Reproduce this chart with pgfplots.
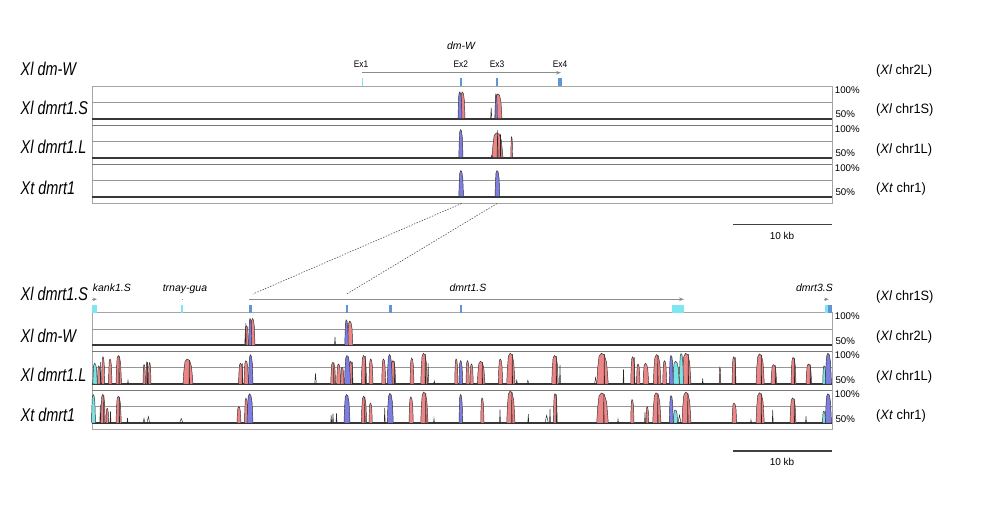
\documentclass[border=0pt]{standalone}
\usepackage{fontspec}
\setmainfont{Liberation Sans}
\newfontfamily\lbl[FakeStretch=0.78]{Liberation Sans}
\newfontfamily\exf[FakeStretch=0.88]{Liberation Sans}
\newfontfamily\rlf[FakeStretch=0.95]{Liberation Sans}
\usepackage{pgfplots}
\usepackage{pgfplotstable}
\pgfplotsset{compat=1.18}
\usetikzlibrary{arrows.meta}

\definecolor{pinkc}{RGB}{236,134,134}
\definecolor{bluec}{RGB}{126,126,226}
\definecolor{cyanc}{RGB}{122,228,226}
\definecolor{outl}{RGB}{45,45,45}
\definecolor{spk}{RGB}{40,40,40}
\definecolor{gridc}{RGB}{150,150,150}
\definecolor{topc}{RGB}{120,120,120}
\definecolor{basec}{RGB}{55,55,55}
\definecolor{framec}{RGB}{165,165,165}
\definecolor{genec}{RGB}{140,140,140}
\definecolor{exonb}{RGB}{95,150,210}
\definecolor{exonc}{RGB}{125,230,240}

% peak glyph: drawn at (a,h), spans width b-a, down to the 50% baseline
\pgfdeclareplotmark{peak}{%
  \pgfmathsetmacro\pkW{\pkB-\pkA}%
  \pgfmathsetmacro\pkD{(\pkH-50)*0.652}%
  \pgfmathtruncatemacro\pkCi{\pkC}%
  \pgfmathsetmacro\pkxa{0.08*\pkW}%
  \pgfmathsetmacro\pkxb{0.2*\pkW}%
  \pgfmathsetmacro\pkxc{0.4*\pkW}%
  \pgfmathsetmacro\pkxm{0.5*\pkW}%
  \pgfmathsetmacro\pkxd{0.65*\pkW}%
  \pgfmathsetmacro\pkxe{0.85*\pkW}%
  \pgfmathsetmacro\pkxf{0.94*\pkW}%
  \pgfmathsetmacro\pkya{-0.5*\pkD}%
  \pgfmathsetmacro\pkyb{-0.1*\pkD}%
  \pgfmathsetmacro\pkyd{-0.05*\pkD}%
  \pgfmathsetmacro\pkye{-0.3*\pkD}%
  \pgfmathsetmacro\pkyf{-0.7*\pkD}%
  \pgfmathsetmacro\pkyz{-1*\pkD}%
  \pgfscope
  \pgfsetlinewidth{0.45pt}%
  \ifnum\pkCi=3
    \pgfsetstrokecolor{spk}%
    \pgfpathmoveto{\pgfpoint{0pt}{\pkyz pt}}%
    \pgfpathlineto{\pgfpoint{\pkxm pt}{0pt}}%
    \pgfpathlineto{\pgfpoint{\pkW pt}{\pkyz pt}}%
    \pgfusepath{stroke}%
  \else
    \pgfsetstrokecolor{outl}%
    \ifcase\pkCi\relax \pgfsetfillcolor{pinkc}\or \pgfsetfillcolor{bluec}\or \pgfsetfillcolor{cyanc}\fi
    \pgfpathmoveto{\pgfpoint{0pt}{\pkyz pt}}%
    \pgfpathlineto{\pgfpoint{\pkxa pt}{\pkya pt}}%
    \pgfpathlineto{\pgfpoint{\pkxb pt}{\pkyb pt}}%
    \pgfpathlineto{\pgfpoint{\pkxc pt}{0pt}}%
    \pgfpathlineto{\pgfpoint{\pkxd pt}{\pkyd pt}}%
    \pgfpathlineto{\pgfpoint{\pkxe pt}{\pkye pt}}%
    \pgfpathlineto{\pgfpoint{\pkxf pt}{\pkyf pt}}%
    \pgfpathlineto{\pgfpoint{\pkW pt}{\pkyz pt}}%
    \pgfpathclose
    \pgfusepath{fill,stroke}%
  \fi
  \endpgfscope
}

\pgfplotsset{
  track/.style={scale only axis, width=740pt, height=32.6pt,
    xmin=92, xmax=832, ymin=50, ymax=100, hide axis, clip=false,
    anchor=south west},
  peaks/.style={only marks, scatter, mark=peak,
    scatter/@pre marker code/.code={}, scatter/@post marker code/.code={},
    visualization depends on={\thisrow{a}\as\pkA},
    visualization depends on={\thisrow{b}\as\pkB},
    visualization depends on={\thisrow{h}\as\pkH},
    visualization depends on={\thisrow{c}\as\pkC}},
  ex/.style={draw=none, mark=none},
}

% c: 0 pink (conserved non-coding), 1 blue (exon), 2 cyan (UTR), 3 black trace only
\pgfplotstableread{
a b h c
460.3 465 91 0
494.8 502 88 0
458 462 91 1
495 497.3 88 1
490.6 491.8 67 3
}\tTa
\pgfplotstableread{
a b h c
492 503 88 0
510.8 512.6 82 0
458.8 463 93 1
491 492.5 54 3
497 498.2 92 3
500 501 87 3
}\tTb
\pgfplotstableread{
a b h c
458.8 463.5 90 1
495 499.8 90 1
}\tTc
\pgfplotstableread{
a b h c
244.8 248.5 80 0
250.5 255 91 0
347.5 352.8 87 0
248.8 251.7 91 1
344.8 348.3 89 1
245.3 246.3 84 3
334.5 335.5 63 3
}\tBa
\pgfplotstableread{
a b h c
97.5 100.5 78 0
101.7 104.7 92 0
108.5 112 88.6 0
116 121.5 94 0
143 145.5 80 0
146 148 84 0
148.5 151 83 0
183 193 88.6 0
238.5 243 82 0
244 248.5 86 0
330.7 335.7 83.5 0
336.7 340.7 81 0
340.7 344 76 0
349 353 85 0
361.3 366.7 94 0
369 373 88.6 0
381.7 385.7 88.6 0
390.7 395.7 86 0
410 414 90 0
420.7 427.3 97.4 0
454.7 458 88.6 0
466 469.3 86 0
470 473.3 81 0
477.3 485 85 0
498.3 502.7 88.6 0
506.7 515 97.4 0
551.7 558.3 94 0
596.7 608.3 97.4 0
630.7 635 92 0
636.5 640 81 0
643 648.7 82 0
653.3 661 95.4 0
662.7 666.7 86 0
682 691 97.4 0
719.3 720.7 76 0
732 736 92 0
756 764.3 96.4 0
771 776.7 80 0
791 796 91 0
806 811.7 81 0
92.8 97.3 82 2
672.7 679.3 85 2
679.3 683.5 97 2
822.7 826 78 2
248.5 253 95 1
344.5 350.5 94 1
387.3 392.3 95.4 1
459 462.7 86 1
669.3 673.3 94 1
825.3 831.5 97.4 1
100.2 101.2 84 3
127.5 128.5 56 3
314.7 316.3 66.5 3
427.5 428.8 82 3
433.5 435 55 3
516 517.5 56 3
526.7 529 56 3
559.5 560.5 80 3
594.5 596.7 60 3
623 624 73 3
702.2 703.2 59 3
118.8 119.4 93 3
147 147.6 84 3
189 189.6 87 3
242 242.6 82 3
333.5 334.1 83 3
352 352.6 84 3
365 365.6 93 3
394 394.6 85 3
425 425.6 96 3
482 482.6 84 3
512 512.6 96 3
556 556.6 93 3
604 604.6 96 3
634 634.6 91 3
657.5 658.1 95 3
688 688.6 96 3
735 735.6 91 3
761 761.6 95 3
775 775.6 79 3
794 794.6 90 3
810 810.6 80 3
}\tBb
\pgfplotstableread{
a b h c
100.7 105.3 93.7 0
106 108.7 72.6 0
116 121.3 91 0
237 241 75 0
244.5 248 88 0
361.3 366.7 91 0
369 372.3 80.5 0
409 413.3 90 0
420.7 428 97.4 0
480.7 484 88.4 0
506.7 515 99 0
553.3 557.3 95 0
596.7 608.3 96 0
630.7 634 86 0
646 648.7 75 0
652.7 661 96.3 0
682 691 97.4 0
732 736.7 80.5 0
756 764.3 96.3 0
790 796 88.4 0
91.5 95.5 93.7 2
673.3 677.7 70 2
822.5 825.5 68 2
247 253 94.7 1
344 350 93.7 1
387.3 393.3 95.3 1
459 462.7 93.7 1
669.3 673.3 92 1
825.3 831.5 95 1
99.8 100.8 78 3
110 111 68 3
127 128 58 3
143 145 57 3
147 149.7 60 3
179.5 183 57 3
330.7 331.7 62 3
332.5 333.5 64.7 3
336 337 65 3
384.2 385.2 73 3
433.5 434.5 57 3
499.5 500.5 71 3
527.8 528.8 63.7 3
545 548.3 62 3
549.5 550.5 72 3
617.5 618.5 56 3
644.5 645.5 67 3
678 681 62 3
750.5 751.5 55 3
772.2 773.2 70 3
805.5 806.5 60.5 3
103.5 104.1 93 3
119 119.6 90 3
364.5 365.1 90 3
425.5 426.1 96 3
511.5 512.1 98 3
556 556.6 94 3
603.5 604.1 95 3
657.5 658.1 95 3
687.5 688.1 96 3
761 761.6 95 3
794 794.6 87 3
}\tBc

\begin{document}
\begin{tikzpicture}
\useasboundingbox (0pt,0pt) rectangle (982pt,510pt);

% ---------- canvas in image pixel coordinates ----------
\begin{axis}[scale only axis, width=982pt, height=510pt, xmin=0, xmax=982,
  ymin=0, ymax=510, y dir=reverse, hide axis, clip=false,
  at={(0pt,0pt)}, anchor=south west]
  \draw[framec, line width=0.8pt] (axis cs:92,86.1) rectangle (axis cs:832,203.3);
  \draw[framec, line width=0.8pt] (axis cs:92,312.7) rectangle (axis cs:832,429.7);
  \addplot[genec, line width=0.9pt, mark=none, -{Stealth[length=5pt,width=3.6pt]}] coordinates {(362,72.7) (561,72.7)};
  \addplot[ex, fill=exonc] coordinates {(361.6,78)(362.6,78)(362.6,86)(361.6,86)};
  \addplot[ex, fill=exonb] coordinates {(459.5,78)(462.3,78)(462.3,86)(459.5,86)};
  \addplot[ex, fill=exonb] coordinates {(496.4,78)(497.5,78)(497.5,86)(496.4,86)};
  \addplot[ex, fill=exonb] coordinates {(557.5,78)(561.5,78)(561.5,86)(557.5,86)};
  \addplot[genec, line width=0.9pt, mark=none, -{Stealth[length=5pt,width=3.6pt]}] coordinates {(249.3,299.3) (684,299.3)};
  \addplot[genec, line width=0.9pt, mark=none, -{Stealth[length=4pt,width=3.6pt]}] coordinates {(92.3,299.3) (96.8,299.3)};
  \addplot[genec, line width=0.9pt, mark=none] coordinates {(181.5,299.3) (183,299.3)};
  \addplot[genec, line width=0.9pt, mark=none, -{Stealth[length=4pt,width=3.6pt]}] coordinates {(823.5,299.3) (828.5,299.3)};
  \addplot[ex, fill=exonc] coordinates {(92,305)(97.3,305)(97.3,312.7)(92,312.7)};
  \addplot[ex, fill=exonc] coordinates {(181.2,305)(183.3,305)(183.3,312.7)(181.2,312.7)};
  \addplot[ex, fill=exonb] coordinates {(249.3,305)(251.7,305)(251.7,312.7)(249.3,312.7)};
  \addplot[ex, fill=exonb] coordinates {(345.7,305)(347.7,305)(347.7,312.7)(345.7,312.7)};
  \addplot[ex, fill=exonb] coordinates {(389,305)(391.7,305)(391.7,312.7)(389,312.7)};
  \addplot[ex, fill=exonb] coordinates {(460.3,305)(462,305)(462,312.7)(460.3,312.7)};
  \addplot[ex, fill=exonc] coordinates {(671.7,305)(684,305)(684,312.7)(671.7,312.7)};
  \addplot[ex, fill=exonc] coordinates {(825,305)(828,305)(828,312.7)(825,312.7)};
  \addplot[ex, fill=exonb] coordinates {(828,305)(831.7,305)(831.7,312.7)(828,312.7)};
  \addplot[black!70, line width=0.6pt, mark=none, dash pattern=on 1.4pt off 1.4pt] coordinates {(461.5,203.5)(253,294)};
  \addplot[black!70, line width=0.6pt, mark=none, dash pattern=on 1.4pt off 1.4pt] coordinates {(497,203.5)(346.7,294)};
  \addplot[black!75, line width=1.4pt, mark=none] coordinates {(733.3,224.7)(831.7,224.7)};
  \addplot[black!75, line width=1.4pt, mark=none] coordinates {(733.3,451.1)(831.7,451.1)};
  \node[anchor=base, inner sep=0pt, font=\fontsize{10}{12}\selectfont] at (axis cs:782,239.3) {10 kb};
  \node[anchor=base, inner sep=0pt, font=\fontsize{10}{12}\selectfont] at (axis cs:782,465.7) {10 kb};
  \node[anchor=base, inner sep=0pt, font=\fontsize{10.5}{12}\selectfont\itshape] at (axis cs:461,49.3) {dm-W};
  \node[anchor=base, inner sep=0pt, font=\exf\fontsize{9.5}{11}\selectfont] at (axis cs:361,67.3) {Ex1};
  \node[anchor=base, inner sep=0pt, font=\exf\fontsize{9.5}{11}\selectfont] at (axis cs:460.7,67.3) {Ex2};
  \node[anchor=base, inner sep=0pt, font=\exf\fontsize{9.5}{11}\selectfont] at (axis cs:497,67.3) {Ex3};
  \node[anchor=base, inner sep=0pt, font=\exf\fontsize{9.5}{11}\selectfont] at (axis cs:560,67.3) {Ex4};
  \node[anchor=base west, inner sep=0pt, font=\fontsize{10.5}{12}\selectfont\itshape] at (axis cs:92.7,291.7) {kank1.S};
  \node[anchor=base, inner sep=0pt, font=\fontsize{10.5}{12}\selectfont\itshape] at (axis cs:185,291.7) {trnay-gua};
  \node[anchor=base, inner sep=0pt, font=\fontsize{10.5}{12}\selectfont\itshape] at (axis cs:468,291.7) {dmrt1.S};
  \node[anchor=base, inner sep=0pt, font=\fontsize{10.5}{12}\selectfont\itshape] at (axis cs:814.5,291.7) {dmrt3.S};
  \begin{scope}[every node/.style={anchor=base west, inner sep=0pt, font=\lbl\itshape\fontsize{18.5}{20}\selectfont}]
  \node at (axis cs:20.5,76) {Xl dm-W};
  \node at (axis cs:20.5,115) {Xl dmrt1.S};
  \node at (axis cs:20.5,154) {Xl dmrt1.L};
  \node at (axis cs:20.5,194.5) {Xt dmrt1};
  \node at (axis cs:20.5,300.7) {Xl dmrt1.S};
  \node at (axis cs:20.5,342.2) {Xl dm-W};
  \node at (axis cs:20.5,381.7) {Xl dmrt1.L};
  \node at (axis cs:20.5,421.2) {Xt dmrt1};
  \end{scope}
  \begin{scope}[every node/.style={anchor=base west, inner sep=0pt, font=\rlf\fontsize{13.5}{15}\selectfont}]
  \node at (axis cs:876,74.3) {(\textit{Xl} chr2L)};
  \node at (axis cs:876,113.3) {(\textit{Xl} chr1S)};
  \node at (axis cs:876,154) {(\textit{Xl} chr1L)};
  \node at (axis cs:876,192.7) {(\textit{Xt} chr1)};
  \node at (axis cs:876,300.7) {(\textit{Xl} chr1S)};
  \node at (axis cs:876,341) {(\textit{Xl} chr2L)};
  \node at (axis cs:876,380.5) {(\textit{Xl} chr1L)};
  \node at (axis cs:876,419.5) {(\textit{Xt} chr1)};
  \end{scope}
  \begin{scope}[every node/.style={anchor=base west, inner sep=0pt, font=\fontsize{9.7}{11}\selectfont}]
  \node at (axis cs:834.7,93.2) {100\%};  \node at (axis cs:835.3,117.7) {50\%};
  \node at (axis cs:834.7,132.1) {100\%}; \node at (axis cs:835.3,156.7) {50\%};
  \node at (axis cs:834.7,171.1) {100\%}; \node at (axis cs:835.3,195.7) {50\%};
  \node at (axis cs:834.7,319.7) {100\%}; \node at (axis cs:835.3,344.3) {50\%};
  \node at (axis cs:834.7,358.6) {100\%}; \node at (axis cs:835.3,383.2) {50\%};
  \node at (axis cs:834.7,397.4) {100\%}; \node at (axis cs:835.3,422.0) {50\%};
  \end{scope}
\end{axis}

\begin{axis}[track, at={(92pt,391.3pt)}]
  \draw[gridc, line width=0.8pt] (axis cs:92,75) -- (axis cs:832,75);
  \addplot[peaks] table[x=a, y=h] {\tTa};
  \draw[basec, line width=1.8pt] (axis cs:92,50) -- (axis cs:832,50);
\end{axis}
\begin{axis}[track, at={(92pt,352.3pt)}]
  \draw[topc, line width=0.8pt] (axis cs:92,100) -- (axis cs:832,100);
  \draw[gridc, line width=0.8pt] (axis cs:92,75) -- (axis cs:832,75);
  \addplot[peaks] table[x=a, y=h] {\tTb};
  \draw[basec, line width=1.8pt] (axis cs:92,50) -- (axis cs:832,50);
\end{axis}
\begin{axis}[track, at={(92pt,313.3pt)}]
  \draw[topc, line width=0.8pt] (axis cs:92,100) -- (axis cs:832,100);
  \draw[gridc, line width=0.8pt] (axis cs:92,75) -- (axis cs:832,75);
  \addplot[peaks] table[x=a, y=h] {\tTc};
  \draw[basec, line width=1.8pt] (axis cs:92,50) -- (axis cs:832,50);
\end{axis}

\begin{axis}[track, at={(92pt,164.7pt)}]
  \draw[gridc, line width=0.8pt] (axis cs:92,75) -- (axis cs:832,75);
  \addplot[peaks] table[x=a, y=h] {\tBa};
  \draw[basec, line width=1.8pt] (axis cs:92,50) -- (axis cs:832,50);
\end{axis}
\begin{axis}[track, at={(92pt,125.8pt)}]
  \draw[topc, line width=0.8pt] (axis cs:92,100) -- (axis cs:832,100);
  \draw[gridc, line width=0.8pt] (axis cs:92,75) -- (axis cs:832,75);
  \addplot[peaks] table[x=a, y=h] {\tBb};
  \draw[basec, line width=1.8pt] (axis cs:92,50) -- (axis cs:832,50);
\end{axis}
\begin{axis}[track, at={(92pt,87pt)}]
  \draw[topc, line width=0.8pt] (axis cs:92,100) -- (axis cs:832,100);
  \draw[gridc, line width=0.8pt] (axis cs:92,75) -- (axis cs:832,75);
  \addplot[peaks] table[x=a, y=h] {\tBc};
  \draw[basec, line width=1.8pt] (axis cs:92,50) -- (axis cs:832,50);
\end{axis}
\end{tikzpicture}
\end{document}
